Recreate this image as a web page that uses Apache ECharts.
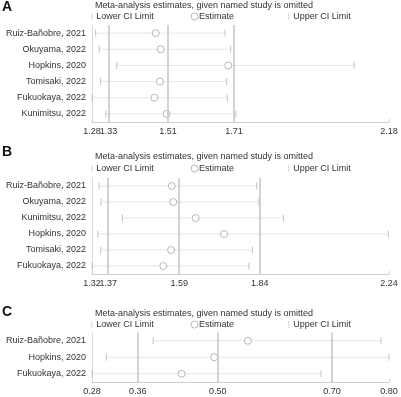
<!DOCTYPE html>
<html>
<head>
<meta charset="utf-8">
<script src="https://cdn.jsdelivr.net/npm/echarts@6/dist/echarts.min.js"></script>
<style>
html,body{margin:0;padding:0;background:#fff;}
#chart{width:401px;height:397px;}
</style>
</head>
<body>
<div id="chart"></div>
<script>
// panel A
var studiesA=['Ruiz-Bañobre, 2021','Okuyama, 2022','Hopkins, 2020','Tomisaki, 2022','Fukuokaya, 2022','Kunimitsu, 2022'];
var lowerA=[1.291,1.302,1.355,1.306,1.28,1.322];
var estA=[1.473,1.488,1.693,1.486,1.469,1.506];
var upperA=[1.683,1.700,2.074,1.688,1.690,1.716];
var ticksA=[1.28,1.33,1.51,1.71,2.18];
var refA=[1.33,1.51,1.71];
// panel B
var studiesB=['Ruiz-Bañobre, 2021','Okuyama, 2022','Kunimitsu, 2022','Hopkins, 2020','Tomisaki, 2022','Fukuokaya, 2022'];
var lowerB=[1.342,1.348,1.414,1.338,1.347,1.32];
var estB=[1.567,1.572,1.641,1.729,1.565,1.541];
var upperB=[1.830,1.837,1.913,2.238,1.817,1.806];
var ticksB=[1.32,1.37,1.59,1.84,2.24];
var refB=[1.37,1.59,1.84];
// panel C
var studiesC=['Ruiz-Bañobre, 2021','Hopkins, 2020','Fukuokaya, 2022'];
var lowerC=[0.387,0.305,0.28];
var estC=[0.553,0.494,0.437];
var upperC=[0.786,0.800,0.681];
var ticksC=[0.28,0.36,0.50,0.70,0.80];
var refC=[0.36,0.50,0.70];

var legendNames=['Lower CI Limit','Estimate','Upper CI Limit'];

var panels=[
  {letter:'A',studies:studiesA,lower:lowerA,est:estA,upper:upperA,ticks:ticksA,ref:refA,letterY:0,titleY:1,legendY:12,top:25,height:97},
  {letter:'B',studies:studiesB,lower:lowerB,est:estB,upper:upperB,ticks:ticksB,ref:refB,letterY:145,titleY:152,legendY:164,top:178,height:96},
  {letter:'C',studies:studiesC,lower:lowerC,est:estC,upper:upperC,ticks:ticksC,ref:refC,letterY:305,titleY:309,legendY:320,top:332.5,height:49.5}
];

var font='"Liberation Sans", Arial, sans-serif';
var barIcon='path://M0,0 L1,0 L1,10 L0,10 Z';
var legendLeft=[91.5,190.5,288.5];
var legendIcon=[barIcon,'circle',barIcon];
var circleStyle={color:'#fff',borderColor:'#a6a6a6',borderWidth:1};
var title=[],legend=[],grid=[],xAxis=[],yAxis=[],series=[];

function labelFmt(v){return v.toFixed(2);}

panels.forEach(function(p,k){
  title.push({text:p.letter,left:2,top:p.letterY,padding:0,textStyle:{fontSize:14,fontWeight:'bold',color:'#111',fontFamily:font}});
  title.push({text:'Meta-analysis estimates, given named study is omitted',left:95,top:p.titleY,padding:0,
    textStyle:{fontSize:9,fontWeight:'normal',color:'#333',fontFamily:font}});
  // one legend per item so each sits where the reference has it
  for(var j=0;j<3;j++){
    var item={name:legendNames[j],icon:legendIcon[j]};
    if(j==1){item.itemStyle=circleStyle;}
    legend.push({left:legendLeft[j],top:p.legendY,padding:0,itemWidth:7,itemHeight:7,selectedMode:false,
      textStyle:{fontSize:9,color:'#333',fontFamily:font,padding:[0,0,0,-4]},
      data:[item]});
  }
  grid.push({left:92,right:12,top:p.top,height:p.height});
  var t=p.ticks;
  // main axis: all labels but the second one (it would be dropped as overlapping the min label)
  xAxis.push({type:'value',gridIndex:k,min:t[0],max:t[t.length-1],
    axisLine:{show:true,lineStyle:{color:'#cfcfcf'}},
    axisTick:{show:true,inside:true,length:3,customValues:[t[0],t[t.length-1]],lineStyle:{color:'#cfcfcf'}},
    splitLine:{show:false},
    axisLabel:{customValues:[t[0]].concat(t.slice(2)),showMinLabel:true,showMaxLabel:true,margin:5,fontSize:9,color:'#333',fontFamily:font,
      formatter:labelFmt}});
  // twin axis carrying the second label only
  xAxis.push({type:'value',gridIndex:k,position:'bottom',min:t[0],max:t[t.length-1],
    axisLine:{show:false},axisTick:{show:false},splitLine:{show:false},
    axisLabel:{customValues:[t[1]],margin:5,fontSize:9,color:'#333',fontFamily:font,formatter:labelFmt}});
  yAxis.push({type:'category',gridIndex:k,inverse:true,data:p.studies,
    axisLine:{show:true,lineStyle:{color:'#dcdcdc'}},axisTick:{show:false},
    axisLabel:{margin:6,fontSize:9,color:'#333',fontFamily:font}});

  var xi=k*2;
  var ci=[];
  for(var i=0;i<p.studies.length;i++){ci.push([p.lower[i],p.upper[i],i]);}
  series.push({type:'custom',xAxisIndex:xi,yAxisIndex:k,data:ci,silent:true,z:1,
    encode:{x:[0,1],y:2},
    renderItem:function(params,api){
      var a=api.coord([api.value(0),api.value(2)]);
      var b=api.coord([api.value(1),api.value(2)]);
      return {type:'line',shape:{x1:a[0],y1:a[1],x2:b[0],y2:b[1]},style:{stroke:'#e6e6e6',lineWidth:1}};
    }});
  series.push({name:'Lower CI Limit',type:'scatter',xAxisIndex:xi,yAxisIndex:k,symbol:'rect',symbolSize:[1,7],
    itemStyle:{color:'#b5b5b5'},data:p.lower.map(function(v,i){return [v,i];}),z:3});
  series.push({name:'Estimate',type:'scatter',xAxisIndex:xi,yAxisIndex:k,symbol:'circle',symbolSize:7,
    itemStyle:circleStyle,data:p.est.map(function(v,i){return [v,i];}),z:3,
    markLine:{silent:true,symbol:'none',label:{show:false},lineStyle:{color:'#c4c4c4',width:1.5,type:'solid'},
      data:p.ref.map(function(v){return {xAxis:v};})}});
  series.push({name:'Upper CI Limit',type:'scatter',xAxisIndex:xi,yAxisIndex:k,symbol:'rect',symbolSize:[1,7],
    itemStyle:{color:'#b5b5b5'},data:p.upper.map(function(v,i){return [v,i];}),z:3});
});

var chart=echarts.init(document.getElementById('chart'),null,{renderer:'canvas'});
chart.setOption({animation:false,backgroundColor:'#fff',title:title,legend:legend,grid:grid,xAxis:xAxis,yAxis:yAxis,series:series});
</script>
</body>
</html>
